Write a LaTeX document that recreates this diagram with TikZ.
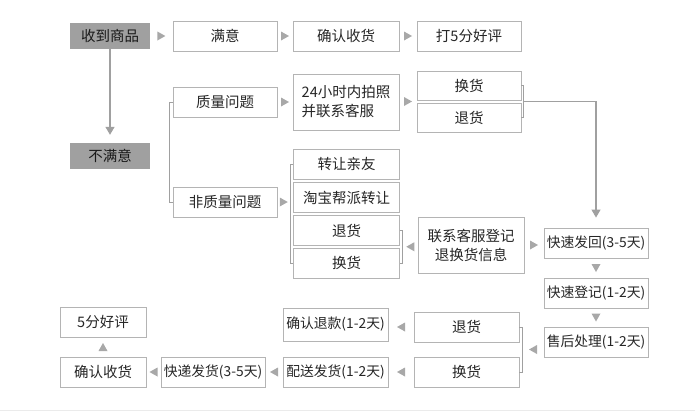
\documentclass[tikz,border=0pt]{standalone}
\usepackage{fontspec}
\setmainfont{Noto Sans CJK SC}
\usetikzlibrary{arrows.meta,calc,decorations.markings}
\definecolor{boxgray}{HTML}{B4B4B4}
\definecolor{linegray}{HTML}{A0A0A0}
\definecolor{tipgray}{HTML}{A8A8A8}
\definecolor{fillgray}{HTML}{A0A0A0}
\definecolor{txt}{HTML}{262626}
\tikzset{
  box/.style={draw=boxgray, line width=0.9pt, minimum width=104pt, minimum height=30pt,
    inner sep=0pt, text=txt, font=\fontsize{14.5pt}{19pt}\selectfont},
  small/.style={font=\fontsize{13.8pt}{17pt}\selectfont},
  dark/.style={fill=fillgray, draw=none, minimum width=80pt, minimum height=26pt,
    inner sep=0pt, text=black!90, font=\fontsize{14.5pt}{19pt}\selectfont},
  conn/.style={draw=linegray, line width=1pt},
  arrowline/.style={draw=linegray, line width=1.2pt, -{Triangle[width=9pt,length=8pt]}},
  tipmark/.style={decoration={markings, mark=at position 0.5 with {\fill[tipgray] (-4pt,-4.5pt) -- (4pt,0pt) -- (-4pt,4.5pt) -- cycle;}}, decorate}
}
\begin{document}
\begin{tikzpicture}[x=1pt,y=-1pt]
\useasboundingbox[fill=white] (0,0) rectangle (695,413);
\draw[black!8, line width=1pt] (0,410) -- (695,410);
% top row
\node[dark] (recv) at (110,36) {收到商品};
\node[box] (ok) at (225,36) {满意};
\node[box, minimum width=106pt] (conf) at (346,36) {确认收货};
\node[box] (five) at (469,36) {打5分好评};
% left
\node[dark] (notok) at (110,156) {不满意};
\node[box] (qual) at (225,102) {质量问题};
\node[box] (nonq) at (225,202) {非质量问题};
\node[box, minimum width=106pt, minimum height=56pt, align=left] (photo) at (346,102) {24小时内拍照\\并联系客服};
\node[box, minimum height=29pt] (ex1) at (469,85.5) {换货};
\node[box, minimum height=29pt] (ret1) at (469,117.5) {退货};
% non-quality options
\node[box, minimum width=106pt] (c1) at (346.5,164) {转让亲友};
\node[box, minimum width=106pt] (c2) at (346.5,197.5) {淘宝帮派转让};
\node[box, minimum width=106pt] (c3) at (346.5,230.5) {退货};
\node[box, minimum width=106pt] (c4) at (346.5,263) {换货};
\node[box, minimum width=106pt, minimum height=56pt, align=center] (reg) at (471,245) {联系客服登记\\退换货信息};
% right column
\node[box, small] (back) at (596,243) {快速发回(3-5天)};
\node[box, small] (dj) at (596,293) {快速登记(1-2天)};
\node[box, small] (sh) at (596,342) {售后处理(1-2天)};
% bottom
\node[box, minimum width=105pt] (ret2) at (466.5,327) {退货};
\node[box, minimum width=105pt] (ex2) at (466.5,372) {换货};
\node[box, small, minimum width=105pt, minimum height=33pt] (refund) at (335.5,324.5) {确认退款(1-2天)};
\node[box, small, minimum width=105pt] (ship) at (335.5,372) {配送发货(1-2天)};
\node[box, small] (exp) at (213,372) {快递发货(3-5天)};
\node[box, minimum width=86pt] (confirm2) at (103,372) {确认收货};
\node[box, minimum width=86pt] (good) at (103,322) {5分好评};

% brackets
\draw[conn] (qual.west) -- ++(-3,0) |- (nonq.west);
\draw[conn] (ex1.east) -- ++(2.5,0) |- (ret1.east);
\draw[conn] (c1.west) -- ++(-3,0) |- (c4.west);
\draw[conn] (c3.east) -- ++(3,0) |- (c4.east);
\draw[conn] (ret2.east) -- ++(3,0) |- (ex2.east);
\coordinate (bq) at ($(qual.west)!0.5!(nonq.west)+(-3,0)$);
\coordinate (bc) at ($(c1.west)!0.5!(c4.west)+(-3,0)$);
\coordinate (bx1) at ($(ex1.east)!0.5!(ret1.east)+(2.5,0)$);
\coordinate (bx1w) at ($(ex1.west)!0.5!(ret1.west)$);
\coordinate (b34) at ($(c3.east)!0.5!(c4.east)+(3,0)$);
\coordinate (b2) at ($(ret2.east)!0.5!(ex2.east)+(3,0)$);
\coordinate (turn) at (bx1 -| back);

% long arrows
\draw[arrowline, shorten >=8pt] (recv) -- (notok);
\draw[arrowline, shorten >=10pt] (bx1) -- (turn) -- (back.north);

% small triangle markers
\path[tipmark] (recv) -- (ok);
\path[tipmark] (ok) -- (conf);
\path[tipmark] (conf) -- (five);
\path[tipmark] (qual) -- (photo);
\path[tipmark] (photo.east |- bx1w) -- (bx1w);
\path[tipmark] (nonq.east) -- (nonq.east -| bc);
\path[tipmark] (reg.west |- b34) -- (b34);
\path[tipmark] (reg.east) -- (reg.east -| back.west);
\path[tipmark] (back) -- (dj);
\path[tipmark] (dj) -- (sh);
\path[tipmark] (sh.west |- b2) -- (b2);
\path[tipmark] (ret2.west) -- (ret2.west -| refund.east);
\path[tipmark] (ex2) -- (ship);
\path[tipmark] (ship) -- (exp);
\path[tipmark] (exp) -- (confirm2);
\path[tipmark] (confirm2) -- (good);
\end{tikzpicture}
\end{document}
